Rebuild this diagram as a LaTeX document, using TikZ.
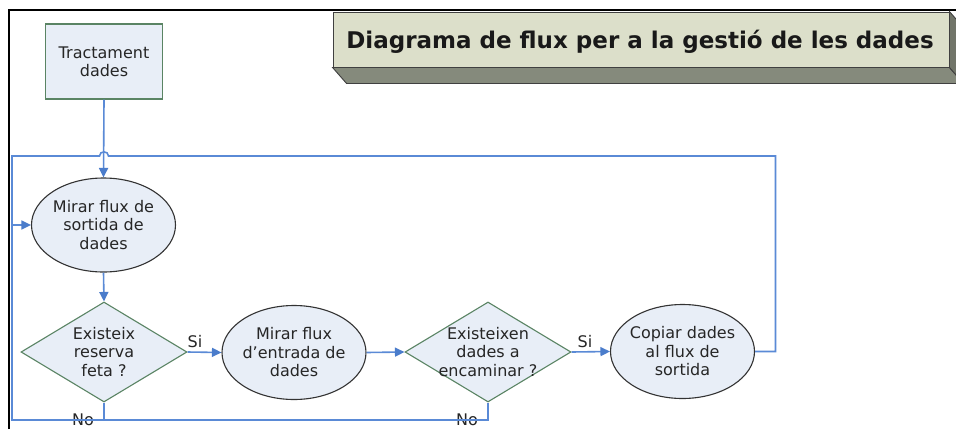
\documentclass[tikz,border=0pt]{standalone}
\usepackage{fontspec}
\setmainfont{DejaVu Sans}
\usetikzlibrary{shapes.geometric,arrows.meta}
\definecolor{flowblue}{HTML}{5A8AD6}
\definecolor{tipblue}{HTML}{4A7CCB}
\definecolor{shapefill}{HTML}{E8EEF7}
\definecolor{greenline}{HTML}{5A8464}
\definecolor{txt}{HTML}{262626}
\definecolor{titlefront}{HTML}{DCDFCA}
\definecolor{titleside}{HTML}{858A7C}
\newcommand\ctext[1]{\makebox[0pt]{\smash{\raisebox{-0.4em}{\begin{tabular}{@{}c@{}}#1\end{tabular}}}}}
\begin{document}
\begin{tikzpicture}[x=1pt,y=-1pt,
  every node/.style={font=\fontsize{16}{18.5}\selectfont, text=txt},
  procbox/.style={draw=greenline, line width=1.3pt, fill=shapefill, minimum width=117pt, minimum height=75pt, inner sep=0pt},
  oval/.style={ellipse, draw=black!80, line width=1.1pt, fill=shapefill, minimum width=144pt, minimum height=94pt, inner sep=0pt},
  decision/.style={diamond, draw=greenline, line width=1.1pt, fill=shapefill, minimum width=166pt, minimum height=100pt, inner sep=0pt},
  flowline/.style={draw=flowblue, line width=1.6pt},
  flowarrow/.style={flowline, -{Triangle[length=9.5pt,width=9pt,color=tipblue]}},
  lbl/.style={inner sep=0pt},
  frame/.style={draw=black, line width=1.4pt}
]
\useasboundingbox (0,0) rectangle (956,429);
\fill[white] (0,0) rectangle (956,429);
% frame
\draw[frame] (9,429) -- (9,10) -- (960,10);

% title 3D box
\node[draw=black!75, line width=0.9pt, fill=titlefront, minimum width=616pt, minimum height=55pt, inner sep=0pt] (title) at (641,39.5) {};
\draw[draw=black!75, line width=0.9pt, fill=titleside] (title.south west) -- (title.south east) -- ++(14,16) -- ([xshift=14pt,yshift=-16pt]title.south west) -- cycle;
\draw[draw=black!75, line width=0.9pt, fill=titleside!85!black] (title.north east) -- ++(14,16) -- ([xshift=14pt,yshift=-16pt]title.south east) -- (title.south east) -- cycle;
\node[lbl, text=black!90, font=\fontsize{23}{27}\selectfont\bfseries] (titletext) at (640,42) {Diagrama de flux per a la gestió de les dades};

% shapes
\node[procbox] (start) at (104,61.5) {\ctext{Tractament\\dades}};
\node[oval] (e1) at (103.5,225) {\ctext{Mirar flux de\\sortida de\\dades}};
\node[decision] (d1) at (104,352) {\ctext{Existeix\\reserva\\feta ?}};
\node[oval] (e2) at (294,352.5) {\ctext{Mirar flux\\d'entrada de\\dades}};
\node[decision] (d2) at (488,352) {\ctext{Existeixen\\dades a\\encaminar ?}};
\node[oval] (e3) at (682.5,351.5) {\ctext{Copiar dades\\al flux de\\sortida}};

% labels
\node[lbl] (si1) at (195,342) {Si};
\node[lbl] (si2) at (585,342) {Si};
\node[lbl] (no1) at (83,419.5) {No};
\node[lbl] (no2) at (467,419.5) {No};

% coordinates
\coordinate (rc) at (775.5,351.5);
\coordinate (topr) at (775.5,156);
\coordinate (hopr) at (108.5,156);
\coordinate (hopl) at (99.5,156);
\coordinate (topl) at (12,156);
\coordinate (botl) at (12,420);

% connectors
\draw[flowarrow] (start.south) -- (e1.north);
\draw[flowarrow] (e1.south) -- (d1.north);
\draw[flowarrow] (d1.east) -- (e2.west);
\draw[flowarrow] (e2.east) -- (d2.west);
\draw[flowarrow] (d2.east) -- (e3.west);
\draw[flowarrow] (e3.east) -- (rc) -- (topr) -- (hopr) .. controls (108.5,150.5) and (99.5,150.5) .. (hopl) -- (topl) |- (e1.west);
\draw[flowline] (d2.south) |- (botl) -- (topl |- e1.west);
\draw[flowline] (d1.south) -- (d1.south |- botl);
\end{tikzpicture}
\end{document}
